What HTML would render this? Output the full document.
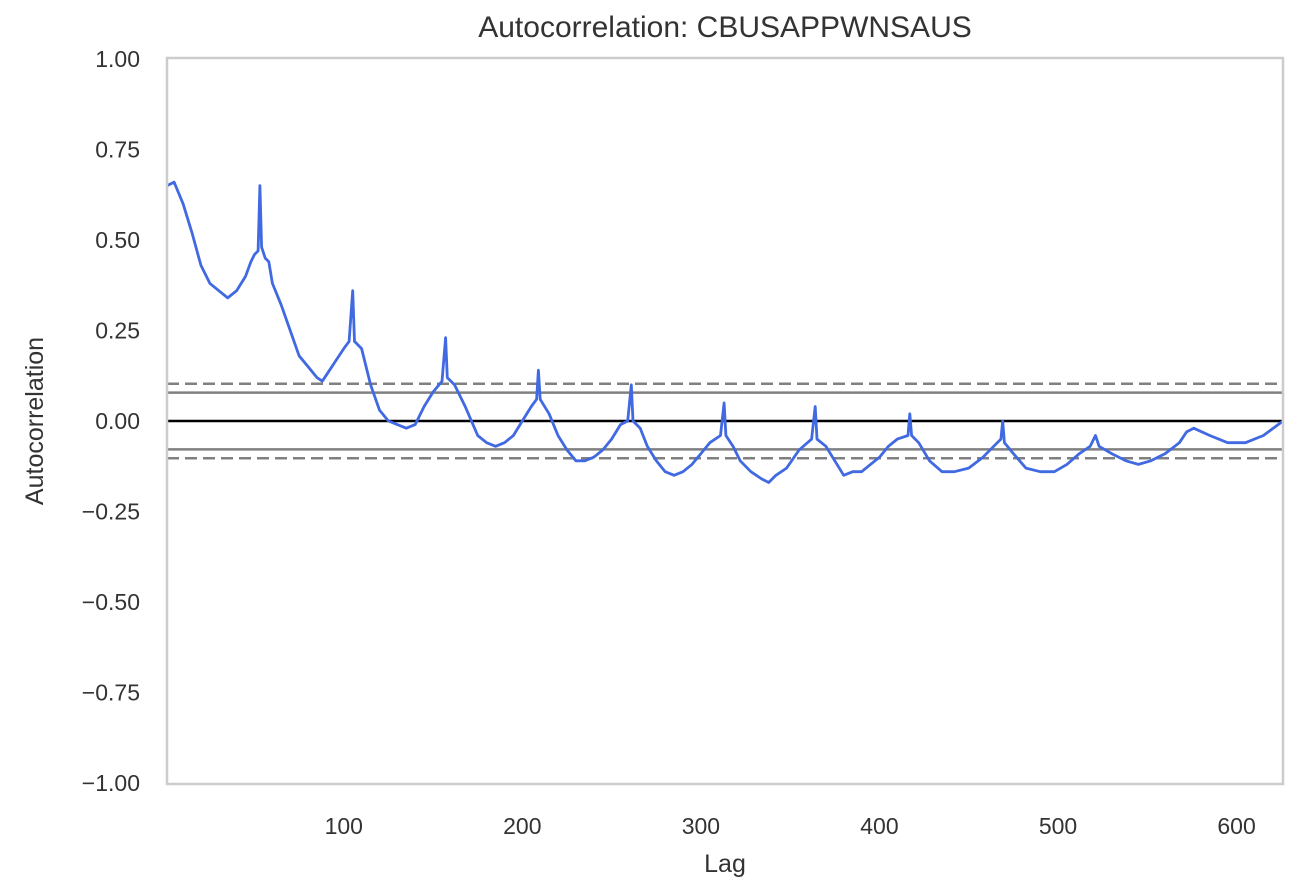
<!DOCTYPE html>
<html><head><meta charset="utf-8"><style>
body{margin:0;background:#fff;}
svg{display:block;font-family:"Liberation Sans",sans-serif;}
</style></head><body>
<svg id="chart" width="1316" height="894" xmlns="http://www.w3.org/2000/svg">
<text x="725" y="37" font-size="30" fill="#333" text-anchor="middle">Autocorrelation: CBUSAPPWNSAUS</text>
<text x="725" y="872" font-size="25" fill="#333" text-anchor="middle">Lag</text>
<text x="43" y="421" font-size="25" fill="#333" text-anchor="middle" transform="rotate(-90 43 421)">Autocorrelation</text>
<g id="yticks"></g><g id="xticks"></g>
<g id="lines"></g>
<path id="series" fill="none" stroke="#4169e1" stroke-width="2.8" stroke-linejoin="round"/>
<rect x="167" y="58" width="1116" height="726" fill="none" stroke="#cccccc" stroke-width="2.5"/>
</svg>
<script>
const lags=[1,5,10,15,20,25,30,35,40,45,48,50,52,53,54,56,58,60,65,70,75,80,85,88,92,96,100,103,105,106,110,115,120,125,130,135,140,145,150,155,157,158,162,168,175,180,185,190,195,200,205,208,209,210,215,220,225,230,235,240,245,250,255,259,261,262,266,270,275,280,285,290,295,300,305,311,313,314,318,322,328,334,338,342,348,355,362,364,365,370,375,380,385,390,395,400,405,410,416,417,418,422,428,435,442,450,458,464,468,469,470,475,482,490,498,505,512,518,521,523,530,538,545,552,560,568,572,576,585,595,605,615,626];
const acf=[0.65,0.66,0.60,0.52,0.43,0.38,0.36,0.34,0.36,0.40,0.44,0.46,0.47,0.65,0.48,0.45,0.44,0.38,0.32,0.25,0.18,0.15,0.12,0.11,0.14,0.17,0.20,0.22,0.36,0.22,0.20,0.10,0.03,0.0,-0.01,-0.02,-0.01,0.04,0.08,0.11,0.23,0.12,0.10,0.04,-0.04,-0.06,-0.07,-0.06,-0.04,0.0,0.04,0.06,0.14,0.06,0.02,-0.04,-0.08,-0.11,-0.11,-0.10,-0.08,-0.05,-0.01,0.0,0.10,0.0,-0.02,-0.07,-0.11,-0.14,-0.15,-0.14,-0.12,-0.09,-0.06,-0.04,0.05,-0.04,-0.07,-0.11,-0.14,-0.16,-0.17,-0.15,-0.13,-0.08,-0.05,0.04,-0.05,-0.07,-0.11,-0.15,-0.14,-0.14,-0.12,-0.10,-0.07,-0.05,-0.04,0.02,-0.04,-0.06,-0.11,-0.14,-0.14,-0.13,-0.10,-0.07,-0.05,0.0,-0.06,-0.09,-0.13,-0.14,-0.14,-0.12,-0.09,-0.07,-0.04,-0.07,-0.09,-0.11,-0.12,-0.11,-0.09,-0.06,-0.03,-0.02,-0.04,-0.06,-0.06,-0.04,0.0];
const yTicks=[1,0.75,0.5,0.25,0,-0.25,-0.5,-0.75,-1];
const xTicks=[100,200,300,400,500,600];
const nObs=626;
const X=l=>167+(l-1)*(1116/(nObs-1));
const Y=v=>421-v*362;
const NS="http://www.w3.org/2000/svg";
function mk(tag,attrs,parent){const e=document.createElementNS(NS,tag);for(const k in attrs)e.setAttribute(k,attrs[k]);parent.appendChild(e);return e;}
const yt=document.getElementById('yticks');
yTicks.forEach(v=>{const t=mk('text',{x:140,y:Y(v)+8,'font-size':23,fill:'#333','text-anchor':'end'},yt);


t.textContent=v.toFixed(2).replace('-','\u2212');});
const xt=document.getElementById('xticks');
xTicks.forEach(v=>{const t=mk('text',{x:X(v),y:834,'font-size':23,fill:'#333','text-anchor':'middle'},xt);


t.textContent=v;});
const lg=document.getElementById('lines');
const z99=2.576/Math.sqrt(nObs), z95=1.96/Math.sqrt(nObs);
[[z99,true],[-z99,true],[z95,false],[-z95,false]].forEach(([v,d])=>{
const l=mk('line',{x1:167,x2:1283,y1:Y(v),y2:Y(v),stroke:'#808080','stroke-width':2.5},lg);
if(d)l.setAttribute('stroke-dasharray','12,6');

});
const zl=mk('line',{x1:167,x2:1283,y1:Y(0),y2:Y(0),stroke:'#000','stroke-width':2.5},lg);


document.getElementById('series').setAttribute('d',lags.map((l,i)=>(i?'L':'M')+X(l).toFixed(1)+' '+Y(acf[i]).toFixed(1)).join(' '));
</script>
</body></html>
